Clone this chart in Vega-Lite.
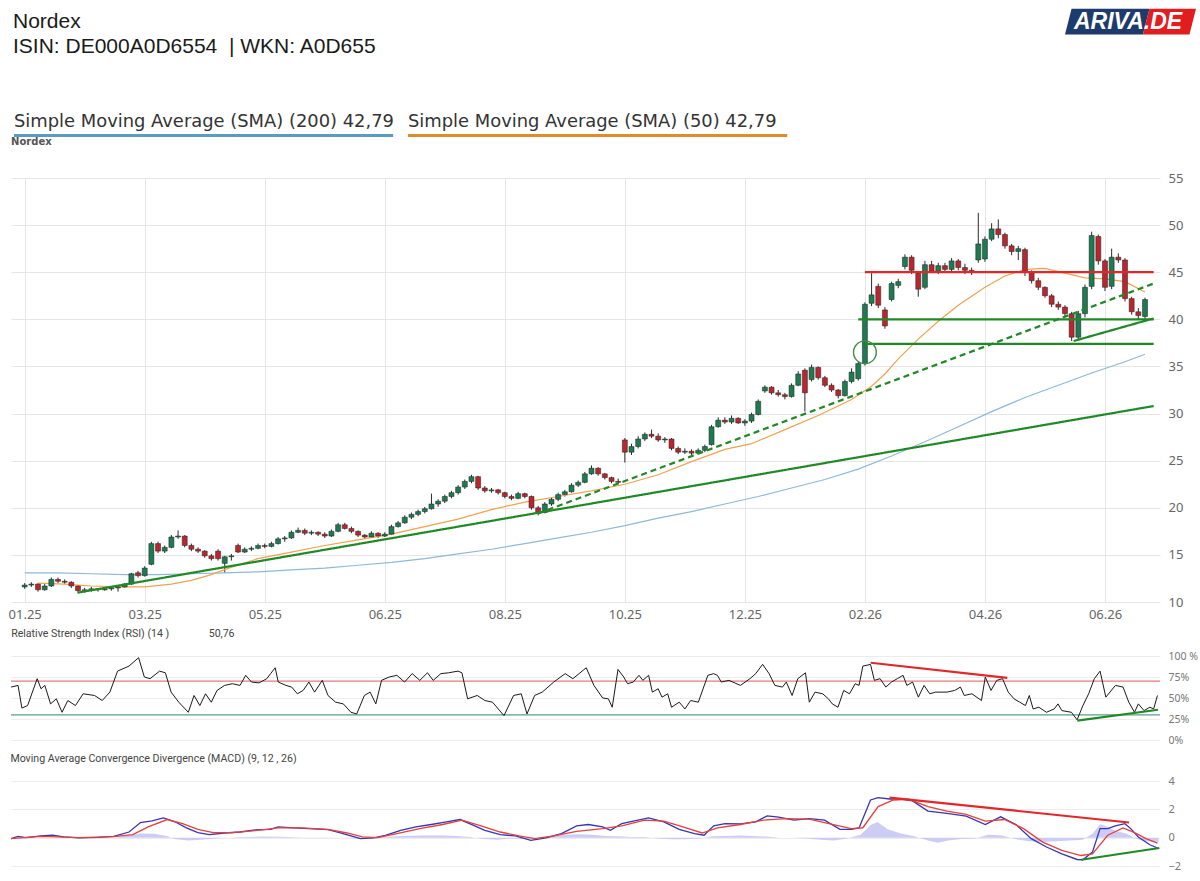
{
  "$schema": "https://vega.github.io/schema/vega-lite/v6.json",
  "background": "white",
  "padding": {"left": 8, "top": 8, "right": 5, "bottom": 4},
  "spacing": 0,
  "config": {
    "view": {"stroke": null},
    "font": "Noto Sans",
    "axis": {"domain": false, "ticks": false, "labelFont": "Noto Sans", "labelColor": "#666", "gridColor": "#e6e6e6", "labelOverlap": false}
  },
  "datasets": {
    "header": [
      {"line": "name", "col": "c1", "kind": "title", "txt": "Nordex"},
      {"line": "isin", "col": "c1", "kind": "title", "txt": "ISIN: DE000A0D6554\u00a0 | WKN: A0D655"},
      {"line": "legend", "col": "c1", "kind": "SMA 200", "txt": "Simple Moving Average (SMA) (200) 42,79"},
      {"line": "legend", "col": "c2", "kind": "SMA 50", "txt": "Simple Moving Average (SMA) (50) 42,79"}
    ],
    "logo": [
      {"line": "name", "brand": "ARIVA.DE", "part": "ARIVA"},
      {"line": "name", "brand": "ARIVA.DE", "part": ".DE"}
    ],
    "candles": [
      {"k":0,"o":11.6,"h":12.0,"l":11.4,"c":11.8},
      {"k":1,"o":11.8,"h":12.1,"l":11.6,"c":11.9},
      {"k":2,"o":11.9,"h":12.0,"l":11.1,"c":11.3},
      {"k":3,"o":11.3,"h":11.9,"l":11.2,"c":11.7},
      {"k":4,"o":11.7,"h":12.6,"l":11.6,"c":12.4},
      {"k":5,"o":12.4,"h":12.6,"l":12.0,"c":12.2},
      {"k":6,"o":12.2,"h":12.4,"l":11.9,"c":12.1},
      {"k":7,"o":12.1,"h":12.2,"l":11.5,"c":11.7},
      {"k":8,"o":11.7,"h":11.8,"l":10.9,"c":11.2},
      {"k":9,"o":11.2,"h":11.5,"l":11.0,"c":11.3},
      {"k":10,"o":11.3,"h":11.6,"l":11.1,"c":11.4},
      {"k":11,"o":11.4,"h":11.5,"l":11.1,"c":11.3},
      {"k":12,"o":11.3,"h":11.6,"l":11.2,"c":11.4},
      {"k":13,"o":11.4,"h":11.6,"l":11.2,"c":11.5},
      {"k":14,"o":11.5,"h":11.7,"l":11.1,"c":11.6},
      {"k":15,"o":11.6,"h":12.0,"l":11.5,"c":11.9},
      {"k":16,"o":11.9,"h":13.1,"l":11.8,"c":13.0},
      {"k":17,"o":13.1,"h":13.3,"l":12.6,"c":12.8},
      {"k":18,"o":12.8,"h":13.8,"l":12.7,"c":13.6},
      {"k":19,"o":14.0,"h":16.4,"l":13.9,"c":16.2},
      {"k":20,"o":16.2,"h":16.4,"l":15.2,"c":15.4},
      {"k":21,"o":15.4,"h":16.0,"l":15.2,"c":15.8},
      {"k":22,"o":15.8,"h":17.1,"l":15.7,"c":16.9},
      {"k":23,"o":16.9,"h":17.6,"l":16.7,"c":17.0},
      {"k":24,"o":17.0,"h":17.1,"l":15.8,"c":16.0},
      {"k":25,"o":16.0,"h":16.2,"l":15.4,"c":15.6},
      {"k":26,"o":15.6,"h":15.8,"l":15.2,"c":15.4},
      {"k":27,"o":15.4,"h":15.5,"l":14.7,"c":14.9},
      {"k":28,"o":14.9,"h":15.1,"l":14.4,"c":14.6},
      {"k":29,"o":15.4,"h":15.6,"l":14.4,"c":14.6},
      {"k":30,"o":14.1,"h":14.9,"l":13.1,"c":14.8},
      {"k":31,"o":14.8,"h":15.1,"l":14.4,"c":14.9},
      {"k":32,"o":16.0,"h":16.2,"l":15.2,"c":15.3},
      {"k":33,"o":15.3,"h":15.8,"l":15.2,"c":15.6},
      {"k":34,"o":15.6,"h":15.9,"l":15.4,"c":15.7},
      {"k":35,"o":15.7,"h":16.2,"l":15.6,"c":16.0},
      {"k":36,"o":16.0,"h":16.2,"l":15.7,"c":15.9},
      {"k":37,"o":15.9,"h":16.4,"l":15.8,"c":16.2},
      {"k":38,"o":16.2,"h":16.9,"l":16.1,"c":16.7},
      {"k":39,"o":16.7,"h":17.0,"l":16.4,"c":16.8},
      {"k":40,"o":16.8,"h":17.6,"l":16.7,"c":17.4},
      {"k":41,"o":17.4,"h":17.9,"l":17.3,"c":17.6},
      {"k":42,"o":17.6,"h":17.8,"l":17.1,"c":17.3},
      {"k":43,"o":17.3,"h":17.6,"l":17.1,"c":17.4},
      {"k":44,"o":17.4,"h":17.5,"l":17.0,"c":17.2},
      {"k":45,"o":17.2,"h":17.4,"l":16.8,"c":17.0},
      {"k":46,"o":17.0,"h":17.7,"l":16.9,"c":17.5},
      {"k":47,"o":17.5,"h":18.4,"l":17.4,"c":18.2},
      {"k":48,"o":18.2,"h":18.4,"l":17.7,"c":17.8},
      {"k":49,"o":17.8,"h":18.0,"l":17.3,"c":17.5},
      {"k":50,"o":17.5,"h":17.6,"l":16.9,"c":17.1},
      {"k":51,"o":17.1,"h":17.2,"l":16.7,"c":16.9},
      {"k":52,"o":16.9,"h":17.5,"l":16.8,"c":17.3},
      {"k":53,"o":17.3,"h":17.4,"l":16.8,"c":17.0},
      {"k":54,"o":17.0,"h":17.4,"l":16.9,"c":17.2},
      {"k":55,"o":17.2,"h":18.2,"l":17.1,"c":18.0},
      {"k":56,"o":18.0,"h":18.6,"l":17.9,"c":18.4},
      {"k":57,"o":18.4,"h":19.2,"l":18.3,"c":19.0},
      {"k":58,"o":19.0,"h":19.5,"l":18.8,"c":19.3},
      {"k":59,"o":19.3,"h":19.8,"l":19.1,"c":19.6},
      {"k":60,"o":19.6,"h":20.1,"l":19.4,"c":19.9},
      {"k":61,"o":19.9,"h":21.5,"l":19.8,"c":20.4},
      {"k":62,"o":20.4,"h":20.9,"l":20.1,"c":20.7},
      {"k":63,"o":20.7,"h":21.4,"l":20.5,"c":21.2},
      {"k":64,"o":21.2,"h":21.8,"l":21.0,"c":21.6},
      {"k":65,"o":21.6,"h":22.4,"l":21.4,"c":22.2},
      {"k":66,"o":22.2,"h":23.0,"l":22.0,"c":22.8},
      {"k":67,"o":22.8,"h":23.5,"l":22.6,"c":23.3},
      {"k":68,"o":23.3,"h":23.4,"l":21.9,"c":22.1},
      {"k":69,"o":22.1,"h":22.3,"l":21.6,"c":21.8},
      {"k":70,"o":21.8,"h":22.1,"l":21.6,"c":21.9},
      {"k":71,"o":21.9,"h":22.0,"l":21.4,"c":21.6},
      {"k":72,"o":21.6,"h":21.7,"l":21.0,"c":21.2},
      {"k":73,"o":21.2,"h":21.4,"l":20.8,"c":21.0},
      {"k":74,"o":21.0,"h":21.7,"l":20.9,"c":21.5},
      {"k":75,"o":21.5,"h":21.6,"l":21.0,"c":21.2},
      {"k":76,"o":21.2,"h":21.3,"l":19.8,"c":20.0},
      {"k":77,"o":20.0,"h":20.2,"l":19.2,"c":19.5},
      {"k":78,"o":19.5,"h":20.6,"l":19.4,"c":20.4},
      {"k":79,"o":20.4,"h":21.1,"l":20.2,"c":20.9},
      {"k":80,"o":20.9,"h":21.6,"l":20.7,"c":21.4},
      {"k":81,"o":21.4,"h":21.9,"l":21.2,"c":21.7},
      {"k":82,"o":21.7,"h":22.6,"l":21.6,"c":22.4},
      {"k":83,"o":22.4,"h":22.9,"l":22.2,"c":22.7},
      {"k":84,"o":22.7,"h":23.8,"l":22.6,"c":23.6},
      {"k":85,"o":23.6,"h":24.5,"l":23.5,"c":24.2},
      {"k":86,"o":24.2,"h":24.3,"l":23.4,"c":23.6},
      {"k":87,"o":23.6,"h":23.7,"l":23.0,"c":23.2},
      {"k":88,"o":23.2,"h":23.3,"l":22.6,"c":22.8},
      {"k":89,"o":22.8,"h":23.1,"l":22.5,"c":22.7},
      {"k":90,"o":27.2,"h":27.4,"l":24.8,"c":25.9},
      {"k":91,"o":25.9,"h":26.8,"l":25.6,"c":26.5},
      {"k":92,"o":26.5,"h":27.6,"l":26.3,"c":27.3},
      {"k":93,"o":27.3,"h":28.0,"l":27.1,"c":27.8},
      {"k":94,"o":27.8,"h":28.3,"l":27.4,"c":27.6},
      {"k":95,"o":27.6,"h":27.9,"l":27.0,"c":27.2},
      {"k":96,"o":27.2,"h":27.5,"l":26.9,"c":27.3},
      {"k":97,"o":27.3,"h":27.4,"l":26.1,"c":26.3},
      {"k":98,"o":26.3,"h":26.5,"l":25.7,"c":25.9},
      {"k":99,"o":25.9,"h":26.3,"l":25.7,"c":26.0},
      {"k":100,"o":26.0,"h":26.2,"l":25.6,"c":25.8},
      {"k":101,"o":25.8,"h":26.3,"l":25.7,"c":26.1},
      {"k":102,"o":26.1,"h":26.7,"l":25.9,"c":26.5},
      {"k":103,"o":26.7,"h":28.8,"l":26.6,"c":28.6},
      {"k":104,"o":28.6,"h":29.6,"l":28.5,"c":29.3},
      {"k":105,"o":29.3,"h":29.6,"l":28.9,"c":29.1},
      {"k":106,"o":29.1,"h":29.8,"l":28.9,"c":29.5},
      {"k":107,"o":29.5,"h":29.6,"l":28.9,"c":29.0},
      {"k":108,"o":29.0,"h":29.4,"l":28.7,"c":29.2},
      {"k":109,"o":29.2,"h":30.1,"l":29.0,"c":29.9},
      {"k":110,"o":29.9,"h":31.5,"l":29.8,"c":31.3},
      {"k":111,"o":32.4,"h":33.0,"l":32.2,"c":32.8},
      {"k":112,"o":32.8,"h":32.9,"l":32.0,"c":32.2},
      {"k":113,"o":32.2,"h":32.5,"l":31.8,"c":32.0},
      {"k":114,"o":32.0,"h":32.2,"l":31.5,"c":31.8},
      {"k":115,"o":31.8,"h":33.2,"l":31.7,"c":33.0},
      {"k":116,"o":33.0,"h":34.5,"l":32.9,"c":34.2},
      {"k":117,"o":34.6,"h":34.8,"l":30.2,"c":32.2},
      {"k":118,"o":33.6,"h":35.2,"l":33.4,"c":34.9},
      {"k":119,"o":34.9,"h":35.0,"l":33.6,"c":33.8},
      {"k":120,"o":33.8,"h":34.0,"l":32.8,"c":33.0},
      {"k":121,"o":33.0,"h":33.2,"l":32.3,"c":32.5},
      {"k":122,"o":32.5,"h":32.6,"l":31.6,"c":31.9},
      {"k":123,"o":31.9,"h":33.6,"l":31.8,"c":33.4},
      {"k":124,"o":33.4,"h":34.8,"l":33.2,"c":34.4},
      {"k":125,"o":33.7,"h":35.5,"l":33.5,"c":35.3},
      {"k":126,"o":35.3,"h":41.8,"l":35.1,"c":41.6},
      {"k":127,"o":41.7,"h":44.9,"l":41.4,"c":42.6},
      {"k":128,"o":43.5,"h":43.8,"l":41.2,"c":41.5},
      {"k":129,"o":41.0,"h":41.3,"l":39.0,"c":39.3},
      {"k":130,"o":42.1,"h":44.0,"l":41.9,"c":43.8},
      {"k":131,"o":43.6,"h":44.3,"l":43.3,"c":44.0},
      {"k":132,"o":45.6,"h":46.9,"l":45.3,"c":46.6},
      {"k":133,"o":46.6,"h":46.8,"l":44.8,"c":45.2},
      {"k":134,"o":44.9,"h":45.1,"l":42.4,"c":43.2},
      {"k":135,"o":43.4,"h":46.2,"l":43.2,"c":45.8},
      {"k":136,"o":45.8,"h":46.2,"l":44.9,"c":45.1},
      {"k":137,"o":45.1,"h":46.0,"l":44.8,"c":45.7},
      {"k":138,"o":45.7,"h":46.0,"l":45.0,"c":45.3},
      {"k":139,"o":45.3,"h":46.5,"l":45.1,"c":46.2},
      {"k":140,"o":46.2,"h":46.4,"l":45.2,"c":45.5},
      {"k":141,"o":45.5,"h":45.9,"l":44.8,"c":45.2},
      {"k":142,"o":45.2,"h":45.5,"l":44.7,"c":45.0},
      {"k":143,"o":46.3,"h":51.3,"l":46.0,"c":48.0},
      {"k":144,"o":46.4,"h":48.8,"l":46.1,"c":48.5},
      {"k":145,"o":48.5,"h":50.2,"l":48.3,"c":49.6},
      {"k":146,"o":49.6,"h":50.6,"l":48.6,"c":49.0},
      {"k":147,"o":49.0,"h":49.2,"l":47.5,"c":47.8},
      {"k":148,"o":47.8,"h":48.0,"l":46.8,"c":47.2},
      {"k":149,"o":47.2,"h":47.8,"l":46.3,"c":47.5},
      {"k":150,"o":47.4,"h":47.6,"l":44.6,"c":45.0},
      {"k":151,"o":45.0,"h":45.2,"l":43.8,"c":44.1},
      {"k":152,"o":44.1,"h":44.4,"l":43.1,"c":43.4},
      {"k":153,"o":43.4,"h":43.5,"l":42.3,"c":42.5},
      {"k":154,"o":42.5,"h":42.7,"l":41.3,"c":41.6},
      {"k":155,"o":41.6,"h":41.9,"l":41.0,"c":41.3},
      {"k":156,"o":41.3,"h":41.5,"l":40.3,"c":40.6},
      {"k":157,"o":40.6,"h":40.8,"l":37.7,"c":38.1},
      {"k":158,"o":38.1,"h":40.9,"l":37.9,"c":40.6},
      {"k":159,"o":40.6,"h":43.7,"l":40.2,"c":43.4},
      {"k":160,"o":43.5,"h":49.3,"l":43.2,"c":48.9},
      {"k":161,"o":48.8,"h":49.0,"l":45.8,"c":46.2},
      {"k":162,"o":46.2,"h":46.4,"l":43.0,"c":43.4},
      {"k":163,"o":43.5,"h":47.5,"l":43.2,"c":46.6},
      {"k":164,"o":46.6,"h":47.0,"l":46.0,"c":46.3},
      {"k":165,"o":46.3,"h":46.5,"l":41.9,"c":42.2},
      {"k":166,"o":42.2,"h":42.4,"l":40.5,"c":40.8},
      {"k":167,"o":40.8,"h":41.2,"l":40.0,"c":40.4},
      {"k":168,"o":40.3,"h":42.3,"l":39.9,"c":42.1}
    ],
    "sma": [
      {"k":0,"s":"SMA 200","v":13.1},{"k":5,"s":"SMA 200","v":13.1},{"k":10,"s":"SMA 200","v":13.0},
      {"k":15,"s":"SMA 200","v":12.9},{"k":20,"s":"SMA 200","v":12.9},{"k":25,"s":"SMA 200","v":13.0},
      {"k":30,"s":"SMA 200","v":13.1},{"k":35,"s":"SMA 200","v":13.2},{"k":40,"s":"SMA 200","v":13.4},
      {"k":45,"s":"SMA 200","v":13.6},{"k":50,"s":"SMA 200","v":13.9},{"k":55,"s":"SMA 200","v":14.2},
      {"k":60,"s":"SMA 200","v":14.6},{"k":65,"s":"SMA 200","v":15.1},{"k":70,"s":"SMA 200","v":15.6},
      {"k":75,"s":"SMA 200","v":16.2},{"k":80,"s":"SMA 200","v":16.8},{"k":85,"s":"SMA 200","v":17.4},
      {"k":90,"s":"SMA 200","v":18.1},{"k":95,"s":"SMA 200","v":18.9},{"k":100,"s":"SMA 200","v":19.6},
      {"k":105,"s":"SMA 200","v":20.4},{"k":110,"s":"SMA 200","v":21.2},{"k":115,"s":"SMA 200","v":22.1},
      {"k":120,"s":"SMA 200","v":23.0},{"k":125,"s":"SMA 200","v":24.1},{"k":130,"s":"SMA 200","v":25.5},
      {"k":135,"s":"SMA 200","v":27.0},{"k":140,"s":"SMA 200","v":28.6},{"k":145,"s":"SMA 200","v":30.2},
      {"k":150,"s":"SMA 200","v":31.7},{"k":155,"s":"SMA 200","v":33.0},{"k":160,"s":"SMA 200","v":34.3},
      {"k":165,"s":"SMA 200","v":35.5},{"k":168,"s":"SMA 200","v":36.3},
      {"k":2,"s":"SMA 50","v":12.0},{"k":6,"s":"SMA 50","v":11.9},{"k":10,"s":"SMA 50","v":11.7},
      {"k":14,"s":"SMA 50","v":11.6},{"k":18,"s":"SMA 50","v":11.6},{"k":22,"s":"SMA 50","v":11.9},
      {"k":25,"s":"SMA 50","v":12.3},{"k":28,"s":"SMA 50","v":12.9},{"k":31,"s":"SMA 50","v":13.7},
      {"k":35,"s":"SMA 50","v":14.6},{"k":40,"s":"SMA 50","v":15.3},{"k":45,"s":"SMA 50","v":16.0},
      {"k":50,"s":"SMA 50","v":16.6},{"k":55,"s":"SMA 50","v":17.2},{"k":60,"s":"SMA 50","v":18.0},
      {"k":65,"s":"SMA 50","v":18.8},{"k":70,"s":"SMA 50","v":19.8},{"k":75,"s":"SMA 50","v":20.6},
      {"k":80,"s":"SMA 50","v":21.2},{"k":85,"s":"SMA 50","v":21.8},{"k":90,"s":"SMA 50","v":22.5},
      {"k":95,"s":"SMA 50","v":23.5},{"k":100,"s":"SMA 50","v":24.9},{"k":105,"s":"SMA 50","v":26.2},
      {"k":109,"s":"SMA 50","v":26.8},{"k":114,"s":"SMA 50","v":28.3},{"k":119,"s":"SMA 50","v":29.8},
      {"k":124,"s":"SMA 50","v":31.5},{"k":127,"s":"SMA 50","v":32.9},{"k":129,"s":"SMA 50","v":34.2},
      {"k":131,"s":"SMA 50","v":35.8},{"k":134,"s":"SMA 50","v":37.9},{"k":137,"s":"SMA 50","v":39.8},
      {"k":140,"s":"SMA 50","v":41.5},{"k":144,"s":"SMA 50","v":43.4},{"k":147,"s":"SMA 50","v":44.6},
      {"k":150,"s":"SMA 50","v":45.3},{"k":153,"s":"SMA 50","v":45.4},{"k":156,"s":"SMA 50","v":44.9},
      {"k":159,"s":"SMA 50","v":44.4},{"k":162,"s":"SMA 50","v":44.3},{"k":165,"s":"SMA 50","v":44.0},
      {"k":168,"s":"SMA 50","v":42.9}
    ],
    "trend": [
      {"kind": "long support", "k": 8, "p": 11.0, "k2": 169.3, "p2": 30.8},
      {"kind": "trend channel", "k": 77, "p": 19.4, "k2": 169.3, "p2": 43.8},
      {"kind": "resistance", "k": 126, "p": 45.0, "k2": 169.3, "p2": 45.0},
      {"kind": "support", "k": 125, "p": 40.0, "k2": 169.3, "p2": 40.0},
      {"kind": "support", "k": 126, "p": 37.4, "k2": 169.3, "p2": 37.4},
      {"kind": "support", "k": 157.3, "p": 37.7, "k2": 169.3, "p2": 40.1}
    ],
    "gap": [{"k": 126, "p": 36.5}],
    "rsi": [
      {"k":-1.28,"v":63},{"k":-0.25,"v":65},{"k":0.32,"v":38},{"k":1.17,"v":41},{"k":2.59,"v":73},
      {"k":3.16,"v":61},{"k":3.73,"v":65},{"k":4.58,"v":43},{"k":5.44,"v":49},{"k":6.29,"v":33},
      {"k":7.14,"v":47},{"k":8.28,"v":41},{"k":9.42,"v":55},{"k":11.12,"v":53},{"k":12.26,"v":47},
      {"k":13.4,"v":57},{"k":14.54,"v":82},{"k":16.24,"v":88},{"k":17.67,"v":98},{"k":18.52,"v":75},
      {"k":19.37,"v":73},{"k":20.79,"v":82},{"k":21.65,"v":80},{"k":22.5,"v":57},{"k":23.64,"v":45},
      {"k":25.06,"v":33},{"k":25.91,"v":53},{"k":26.77,"v":41},{"k":27.62,"v":55},{"k":28.47,"v":45},
      {"k":29.33,"v":59},{"k":30.46,"v":65},{"k":31.6,"v":67},{"k":32.74,"v":65},{"k":33.59,"v":77},
      {"k":34.45,"v":69},{"k":35.58,"v":68},{"k":36.72,"v":73},{"k":37.29,"v":79},{"k":37.97,"v":86},
      {"k":38.43,"v":69},{"k":39.56,"v":65},{"k":40.42,"v":63},{"k":41.27,"v":55},{"k":42.12,"v":59},
      {"k":42.98,"v":69},{"k":43.83,"v":57},{"k":44.97,"v":71},{"k":45.82,"v":53},{"k":46.96,"v":45},
      {"k":48.1,"v":43},{"k":49.23,"v":33},{"k":50.09,"v":31},{"k":51.23,"v":53},{"k":52.08,"v":57},
      {"k":52.93,"v":43},{"k":53.78,"v":71},{"k":54.92,"v":75},{"k":56.06,"v":77},{"k":57.2,"v":69},
      {"k":58.34,"v":79},{"k":59.47,"v":71},{"k":60.61,"v":80},{"k":61.46,"v":71},{"k":62.6,"v":79},
      {"k":63.74,"v":80},{"k":65.16,"v":82},{"k":65.73,"v":80},{"k":66.58,"v":49},{"k":68.0,"v":53},
      {"k":69.14,"v":47},{"k":70.28,"v":45},{"k":71.98,"v":29},{"k":73.41,"v":53},{"k":74.55,"v":55},
      {"k":75.4,"v":31},{"k":76.54,"v":53},{"k":77.67,"v":57},{"k":79.38,"v":69},{"k":81.08,"v":79},
      {"k":82.22,"v":73},{"k":84.21,"v":86},{"k":85.35,"v":65},{"k":86.65,"v":50},{"k":87.5,"v":49},
      {"k":88.07,"v":39},{"k":88.93,"v":84},{"k":89.78,"v":75},{"k":90.35,"v":67},{"k":91.2,"v":69},
      {"k":92.05,"v":77},{"k":92.62,"v":71},{"k":93.48,"v":77},{"k":94.04,"v":57},{"k":94.9,"v":61},
      {"k":95.47,"v":51},{"k":96.32,"v":55},{"k":96.89,"v":39},{"k":98.03,"v":45},{"k":98.88,"v":37},
      {"k":99.73,"v":47},{"k":100.87,"v":45},{"k":102.29,"v":77},{"k":103.15,"v":79},{"k":103.71,"v":77},
      {"k":104.28,"v":69},{"k":105.42,"v":71},{"k":107.13,"v":65},{"k":108.55,"v":73},{"k":109.4,"v":79},
      {"k":110.43,"v":90},{"k":111.39,"v":79},{"k":112.25,"v":65},{"k":113.38,"v":63},{"k":113.95,"v":69},
      {"k":114.81,"v":53},{"k":115.66,"v":73},{"k":116.8,"v":80},{"k":117.37,"v":45},{"k":118.22,"v":57},
      {"k":119.36,"v":55},{"k":120.21,"v":49},{"k":120.78,"v":43},{"k":121.63,"v":39},{"k":122.48,"v":59},
      {"k":123.34,"v":55},{"k":124.19,"v":67},{"k":124.76,"v":65},{"k":125.33,"v":88},{"k":126.47,"v":90},
      {"k":127.04,"v":71},{"k":127.89,"v":73},{"k":128.74,"v":63},{"k":129.59,"v":69},{"k":130.45,"v":73},
      {"k":131.3,"v":77},{"k":131.87,"v":65},{"k":132.72,"v":69},{"k":133.58,"v":51},{"k":134.43,"v":65},
      {"k":135.28,"v":55},{"k":136.14,"v":57},{"k":137.84,"v":57},{"k":138.98,"v":59},{"k":139.83,"v":63},
      {"k":140.4,"v":53},{"k":141.54,"v":55},{"k":142.96,"v":47},{"k":143.53,"v":75},{"k":144.38,"v":59},
      {"k":145.24,"v":71},{"k":146.09,"v":73},{"k":146.94,"v":57},{"k":147.8,"v":49},{"k":148.65,"v":45},
      {"k":149.5,"v":41},{"k":150.07,"v":53},{"k":150.64,"v":37},{"k":151.49,"v":39},{"k":152.63,"v":33},
      {"k":153.77,"v":37},{"k":154.34,"v":43},{"k":154.91,"v":35},{"k":156.33,"v":33},{"k":157.18,"v":24},
      {"k":158.04,"v":41},{"k":158.89,"v":55},{"k":159.74,"v":73},{"k":160.59,"v":82},{"k":161.45,"v":51},
      {"k":162.87,"v":65},{"k":164.01,"v":63},{"k":164.86,"v":45},{"k":165.71,"v":33},{"k":166.28,"v":43},
      {"k":167.13,"v":35},{"k":167.99,"v":39},{"k":168.56,"v":37},{"k":169.12,"v":53}
    ],
    "rsiLevels": [
      {"kind": "overbought", "v": 70},
      {"kind": "oversold", "v": 30}
    ],
    "rsiTrend": [
      {"kind": "bearish divergence", "k": 126.5, "v": 92, "k2": 146.8, "v2": 74},
      {"kind": "bullish divergence", "k": 157.2, "v": 23, "k2": 169.2, "v2": 36}
    ],
    "macd": [
      {"k":-1.3,"s":"MACD","v":-0.07},{"k":-0.25,"s":"MACD","v":0.09},{"k":0.89,"s":"MACD","v":0.0},
      {"k":3.16,"s":"MACD","v":0.12},{"k":4.87,"s":"MACD","v":0.17},{"k":6.57,"s":"MACD","v":0.05},
      {"k":8.85,"s":"MACD","v":-0.02},{"k":11.69,"s":"MACD","v":0.02},{"k":13.97,"s":"MACD","v":0.09},
      {"k":16.24,"s":"MACD","v":0.4},{"k":17.95,"s":"MACD","v":1.07},{"k":19.66,"s":"MACD","v":1.19},
      {"k":21.36,"s":"MACD","v":1.4},{"k":23.07,"s":"MACD","v":1.12},{"k":24.78,"s":"MACD","v":0.69},
      {"k":26.48,"s":"MACD","v":0.36},{"k":28.19,"s":"MACD","v":0.21},{"k":30.46,"s":"MACD","v":0.33},
      {"k":32.74,"s":"MACD","v":0.4},{"k":35.01,"s":"MACD","v":0.55},{"k":37.29,"s":"MACD","v":0.59},
      {"k":38.43,"s":"MACD","v":0.76},{"k":40.7,"s":"MACD","v":0.69},{"k":42.98,"s":"MACD","v":0.64},
      {"k":45.82,"s":"MACD","v":0.57},{"k":47.53,"s":"MACD","v":0.36},{"k":49.23,"s":"MACD","v":0.12},
      {"k":50.65,"s":"MACD","v":-0.07},{"k":52.65,"s":"MACD","v":-0.02},{"k":54.35,"s":"MACD","v":0.17},
      {"k":56.63,"s":"MACD","v":0.52},{"k":58.9,"s":"MACD","v":0.76},{"k":61.18,"s":"MACD","v":0.93},
      {"k":63.45,"s":"MACD","v":1.12},{"k":65.45,"s":"MACD","v":1.28},{"k":66.87,"s":"MACD","v":0.99},
      {"k":69.14,"s":"MACD","v":0.52},{"k":71.42,"s":"MACD","v":0.21},{"k":73.69,"s":"MACD","v":0.12},
      {"k":75.97,"s":"MACD","v":-0.19},{"k":78.24,"s":"MACD","v":-0.02},{"k":80.52,"s":"MACD","v":0.28},
      {"k":82.79,"s":"MACD","v":0.83},{"k":84.5,"s":"MACD","v":0.93},{"k":86.66,"s":"MACD","v":0.76},
      {"k":87.79,"s":"MACD","v":0.52},{"k":89.49,"s":"MACD","v":0.99},{"k":91.2,"s":"MACD","v":1.17},
      {"k":93.48,"s":"MACD","v":1.4},{"k":95.75,"s":"MACD","v":1.12},{"k":98.03,"s":"MACD","v":0.59},
      {"k":100.3,"s":"MACD","v":0.28},{"k":101.72,"s":"MACD","v":0.17},{"k":103.15,"s":"MACD","v":0.83},
      {"k":104.85,"s":"MACD","v":0.99},{"k":107.13,"s":"MACD","v":0.97},{"k":109.4,"s":"MACD","v":1.12},
      {"k":111.11,"s":"MACD","v":1.54},{"k":112.81,"s":"MACD","v":1.45},{"k":115.09,"s":"MACD","v":1.24},
      {"k":117.37,"s":"MACD","v":1.35},{"k":119.64,"s":"MACD","v":1.24},{"k":121.92,"s":"MACD","v":0.59},
      {"k":123.62,"s":"MACD","v":0.59},{"k":124.76,"s":"MACD","v":0.69},{"k":126.47,"s":"MACD","v":2.66},
      {"k":127.6,"s":"MACD","v":2.83},{"k":129.31,"s":"MACD","v":2.73},{"k":131.02,"s":"MACD","v":2.73},
      {"k":132.72,"s":"MACD","v":2.59},{"k":135.0,"s":"MACD","v":1.88},{"k":137.84,"s":"MACD","v":1.71},
      {"k":140.69,"s":"MACD","v":1.52},{"k":143.53,"s":"MACD","v":0.93},{"k":145.81,"s":"MACD","v":1.47},
      {"k":148.08,"s":"MACD","v":0.93},{"k":150.36,"s":"MACD","v":-0.07},{"k":152.63,"s":"MACD","v":-0.66},
      {"k":154.91,"s":"MACD","v":-1.14},{"k":157.18,"s":"MACD","v":-1.54},{"k":158.04,"s":"MACD","v":-1.56},
      {"k":159.46,"s":"MACD","v":-1.02},{"k":160.59,"s":"MACD","v":0.64},{"k":161.73,"s":"MACD","v":0.64},
      {"k":162.87,"s":"MACD","v":0.83},{"k":164.29,"s":"MACD","v":0.99},{"k":165.14,"s":"MACD","v":0.64},
      {"k":166.28,"s":"MACD","v":0.05},{"k":167.99,"s":"MACD","v":-0.5},{"k":169.12,"s":"MACD","v":-0.73},
      {"k":-1.3,"s":"Signal","v":-0.07},{"k":3.16,"s":"Signal","v":0.09},{"k":8.85,"s":"Signal","v":0.0},
      {"k":13.97,"s":"Signal","v":0.07},{"k":16.81,"s":"Signal","v":0.21},{"k":19.09,"s":"Signal","v":0.76},
      {"k":21.93,"s":"Signal","v":1.28},{"k":24.21,"s":"Signal","v":0.99},{"k":26.48,"s":"Signal","v":0.59},
      {"k":28.76,"s":"Signal","v":0.36},{"k":31.6,"s":"Signal","v":0.36},{"k":35.01,"s":"Signal","v":0.5},
      {"k":38.43,"s":"Signal","v":0.69},{"k":41.84,"s":"Signal","v":0.69},{"k":45.82,"s":"Signal","v":0.59},
      {"k":48.66,"s":"Signal","v":0.33},{"k":50.94,"s":"Signal","v":0.05},{"k":53.21,"s":"Signal","v":0.0},
      {"k":56.06,"s":"Signal","v":0.28},{"k":59.47,"s":"Signal","v":0.64},{"k":62.88,"s":"Signal","v":0.93},
      {"k":65.73,"s":"Signal","v":1.24},{"k":68.57,"s":"Signal","v":0.83},{"k":71.42,"s":"Signal","v":0.4},
      {"k":74.26,"s":"Signal","v":0.12},{"k":76.54,"s":"Signal","v":-0.07},{"k":79.38,"s":"Signal","v":0.12},
      {"k":82.79,"s":"Signal","v":0.45},{"k":86.66,"s":"Signal","v":0.64},{"k":89.49,"s":"Signal","v":0.83},
      {"k":92.91,"s":"Signal","v":1.24},{"k":95.75,"s":"Signal","v":1.17},{"k":98.59,"s":"Signal","v":0.76},
      {"k":101.44,"s":"Signal","v":0.33},{"k":103.71,"s":"Signal","v":0.69},{"k":107.13,"s":"Signal","v":0.93},
      {"k":110.54,"s":"Signal","v":1.24},{"k":113.95,"s":"Signal","v":1.35},{"k":117.37,"s":"Signal","v":1.31},
      {"k":120.78,"s":"Signal","v":0.93},{"k":123.62,"s":"Signal","v":0.64},{"k":125.33,"s":"Signal","v":0.7},
      {"k":127.6,"s":"Signal","v":2.19},{"k":129.88,"s":"Signal","v":2.66},{"k":132.15,"s":"Signal","v":2.71},
      {"k":135.0,"s":"Signal","v":2.19},{"k":137.84,"s":"Signal","v":1.88},{"k":140.69,"s":"Signal","v":1.64},
      {"k":143.53,"s":"Signal","v":1.17},{"k":146.38,"s":"Signal","v":1.28},{"k":149.22,"s":"Signal","v":0.64},
      {"k":152.06,"s":"Signal","v":-0.31},{"k":154.91,"s":"Signal","v":-0.9},{"k":157.75,"s":"Signal","v":-1.26},
      {"k":159.46,"s":"Signal","v":-1.14},{"k":161.73,"s":"Signal","v":0.17},{"k":164.01,"s":"Signal","v":0.69},
      {"k":165.71,"s":"Signal","v":0.36},{"k":167.42,"s":"Signal","v":-0.07},{"k":169.12,"s":"Signal","v":-0.38}
    ],
    "hist": [
      {"k":-1.3,"v":0},{"k":14,"v":0},{"k":16,"v":0.15},{"k":18,"v":0.3},{"k":20,"v":0.28},{"k":22,"v":0.1},
      {"k":23,"v":-0.1},{"k":25,"v":-0.2},{"k":27,"v":-0.15},{"k":29,"v":-0.05},{"k":31,"v":0},{"k":33,"v":0.05},
      {"k":36,"v":0.08},{"k":39,"v":0.06},{"k":42,"v":0.02},{"k":45,"v":0.02},{"k":48,"v":0},{"k":50,"v":-0.05},
      {"k":52,"v":-0.05},{"k":54,"v":0.05},{"k":57,"v":0.12},{"k":60,"v":0.15},{"k":63,"v":0.16},{"k":65,"v":0.12},
      {"k":67,"v":0.05},{"k":69,"v":-0.1},{"k":71,"v":-0.15},{"k":73,"v":-0.05},{"k":75,"v":-0.1},{"k":77,"v":0},
      {"k":79,"v":0.1},{"k":81,"v":0.2},{"k":83,"v":0.25},{"k":85,"v":0.2},{"k":87,"v":0.12},{"k":89,"v":0.1},
      {"k":91,"v":0.05},{"k":93,"v":0.05},{"k":95,"v":-0.05},{"k":97,"v":-0.12},{"k":99,"v":-0.12},{"k":101,"v":-0.05},
      {"k":103,"v":0.1},{"k":105,"v":0.12},{"k":107,"v":0.15},{"k":109,"v":0.12},{"k":111,"v":0.08},{"k":113,"v":0},
      {"k":115,"v":0},{"k":117,"v":-0.05},{"k":119,"v":-0.15},{"k":121,"v":-0.2},{"k":123,"v":-0.05},{"k":125,"v":0.2},
      {"k":126.5,"v":0.9},{"k":127.5,"v":1.1},{"k":129,"v":0.6},{"k":131,"v":0.3},{"k":133,"v":0.1},{"k":135,"v":-0.2},
      {"k":136.5,"v":-0.35},{"k":138,"v":-0.2},{"k":140,"v":-0.1},{"k":142,"v":-0.05},{"k":144,"v":0.2},{"k":146,"v":0.15},
      {"k":148,"v":-0.1},{"k":150,"v":-0.25},{"k":152,"v":-0.3},{"k":154,"v":-0.25},{"k":156,"v":-0.2},{"k":158,"v":-0.15},
      {"k":159.5,"v":0.3},{"k":160.6,"v":0.95},{"k":161.5,"v":0.8},{"k":163,"v":0.45},{"k":164.5,"v":0.3},{"k":166,"v":-0.1},
      {"k":167.5,"v":-0.25},{"k":169.3,"v":-0.3}
    ],
    "macdTrend": [
      {"kind": "bearish divergence", "k": 129.3, "v": 2.83, "k2": 164.9, "v2": 1.07},
      {"kind": "bullish divergence", "k": 157.8, "v": -1.56, "k2": 169.4, "v2": -0.73}
    ]
  },
  "vconcat": [
    {
      "width": 1185,
      "height": 126,
      "layer": [
        {
          "data": {"name": "header"},
          "transform": [{"filter": "datum.kind == 'title'"}],
          "mark": {"type": "text", "align": "left", "baseline": "middle", "font": "Liberation Sans", "fontSize": 21, "color": "#1a1a1a", "dx": 2},
          "encoding": {
            "x": {"field": "col", "type": "nominal", "bandPosition": 0, "scale": {"type": "band", "domain": ["c1", "c2", "c3"], "paddingInner": 0.03, "paddingOuter": 0.0188, "align": 0}, "axis": null},
            "y": {"field": "line", "type": "nominal", "scale": {"type": "point", "domain": ["name", "isin", "gap1", "gap2", "legend"], "padding": 0.5}, "axis": null},
            "text": {"field": "txt"}
          }
        },
        {
          "data": {"name": "header"},
          "transform": [{"filter": "datum.kind != 'title'"}],
          "mark": {"type": "text", "align": "left", "baseline": "middle", "font": "DejaVu Sans", "fontSize": 17.9, "color": "#333", "dx": 3},
          "encoding": {
            "x": {"field": "col", "type": "nominal", "bandPosition": 0, "scale": {"type": "band", "domain": ["c1", "c2", "c3"], "paddingInner": 0.03, "paddingOuter": 0.0188, "align": 0}, "axis": null},
            "y": {"field": "line", "type": "nominal", "axis": null},
            "text": {"field": "txt"}
          }
        },
        {
          "data": {"name": "header"},
          "transform": [{"filter": "datum.kind != 'title'"}],
          "mark": {"type": "rule", "strokeWidth": 3, "yOffset": 13, "xOffset": 3},
          "encoding": {
            "x": {"field": "col", "type": "nominal", "bandPosition": 0, "scale": {"type": "band", "domain": ["c1", "c2", "c3"], "paddingInner": 0.03, "paddingOuter": 0.0188, "align": 0}, "axis": null},
            "x2": {"field": "col", "bandPosition": 1},
            "y": {"field": "line", "type": "nominal", "axis": null},
            "color": {"field": "kind", "type": "nominal", "scale": {"domain": ["SMA 200", "SMA 50"], "range": ["#5b9bc0", "#e08a2c"]}, "legend": null}
          }
        },
        {
          "data": {"name": "logo"},
          "mark": {"type": "point", "filled": true, "opacity": 1, "strokeWidth": 0, "size": 17161, "xOffset": -65.5},
          "encoding": {
            "x": {"field": "brand", "type": "nominal", "bandPosition": 1, "scale": {"type": "band", "paddingInner": 0, "paddingOuter": 0}, "axis": null},
            "y": {"field": "line", "type": "nominal", "axis": null},
            "shape": {"field": "part", "type": "nominal", "scale": {"domain": ["ARIVA", ".DE"], "range": ["M-1,0.198L-0.9,-0.198L0.29,-0.198L0.19,0.198Z", "M0.19,0.198L0.29,-0.198L1,-0.198L0.9,0.198Z"]}, "legend": null},
            "fill": {"field": "part", "type": "nominal", "scale": {"domain": ["ARIVA", ".DE"], "range": ["#1d3b6c", "#e11d1f"]}, "legend": null}
          }
        },
        {
          "data": {"name": "logo"},
          "transform": [{"filter": "datum.part == 'ARIVA'"}],
          "mark": {"type": "text", "align": "center", "baseline": "middle", "font": "Liberation Sans", "fontSize": 23, "fontWeight": "bold", "fontStyle": "italic", "color": "#ffffff", "xOffset": -68},
          "encoding": {
            "x": {"field": "brand", "type": "nominal", "bandPosition": 1, "scale": {"type": "band", "paddingInner": 0, "paddingOuter": 0}, "axis": null},
            "y": {"field": "line", "type": "nominal", "axis": null},
            "text": {"field": "brand"}
          }
        }
      ],
      "resolve": {"scale": {"x": "independent", "color": "independent", "fill": "independent"}}
    },
    {
      "width": 1149,
      "height": 424,
      "title": {"text": "Nordex", "anchor": "start", "font": "DejaVu Sans", "fontSize": 10, "fontWeight": "bold", "color": "#555", "offset": 25, "dx": 3},
      "encoding": {
        "x": {
          "field": "k", "type": "quantitative",
          "scale": {"domain": [-1.3, 169.5], "nice": false, "zero": false},
          "axis": {
            "orient": "bottom", "title": null, "grid": true, "gridColor": "#e6e6e6",
            "values": [0, 18, 36, 54, 72, 90, 108, 126, 144, 162],
            "labelExpr": "['01.25','03.25','05.25','06.25','08.25','10.25','12.25','02.26','04.26','06.26'][round(datum.value / 18)]",
            "labelFontSize": 13, "labelColor": "#666", "labelPadding": 6, "labelFlush": false, "tickSize": 0
          }
        }
      },
      "layer": [
        {
          "data": {"name": "candles"},
          "mark": {"type": "rule", "color": "#2b2b2b", "strokeWidth": 1},
          "encoding": {
            "y": {"field": "l", "type": "quantitative", "title": null, "scale": {"domain": [10, 55], "nice": false, "zero": false},
              "axis": {"orient": "right", "title": null, "grid": true, "gridColor": "#e6e6e6", "values": [10, 15, 20, 25, 30, 35, 40, 45, 50, 55], "labelFontSize": 13, "labelColor": "#666", "labelPadding": 8, "tickSize": 0}},
            "y2": {"field": "h"}
          }
        },
        {
          "data": {"name": "sma"},
          "mark": {"type": "line", "strokeWidth": 1.2, "clip": true},
          "encoding": {
            "y": {"field": "v", "type": "quantitative", "title": null},
            "color": {"field": "s", "type": "nominal", "scale": {"domain": ["SMA 200", "SMA 50"], "range": ["#8fb9d6", "#f0a24e"]}, "legend": null}
          }
        },
        {
          "data": {"name": "candles"},
          "mark": {"type": "bar", "width": 5, "stroke": "#1e1e1e", "strokeWidth": 0.5},
          "encoding": {
            "y": {"field": "o", "type": "quantitative", "title": null},
            "y2": {"field": "c"},
            "fill": {"condition": {"test": "datum.c >= datum.o", "value": "#1d7a52"}, "value": "#b8272f"}
          }
        },
        {
          "data": {"name": "trend"},
          "mark": {"type": "rule", "strokeWidth": 2.2, "clip": true},
          "encoding": {
            "y": {"field": "p", "type": "quantitative", "title": null},
            "x2": {"field": "k2"},
            "y2": {"field": "p2"},
            "color": {"field": "kind", "type": "nominal", "scale": {"domain": ["long support", "trend channel", "resistance", "support"], "range": ["#1f8a25", "#1f8a25", "#e3262a", "#1f8a25"]}, "legend": null},
            "strokeDash": {"field": "kind", "type": "nominal", "scale": {"domain": ["long support", "trend channel", "resistance", "support"], "range": [[1, 0], [6, 4], [1, 0], [1, 0]]}, "legend": null}
          }
        },
        {
          "data": {"name": "gap"},
          "mark": {"type": "point", "shape": "circle", "filled": false, "size": 520, "stroke": "#3f8f45", "strokeWidth": 1.4, "opacity": 1},
          "encoding": {"y": {"field": "p", "type": "quantitative", "title": null}}
        }
      ],
      "resolve": {"scale": {"color": "independent"}}
    },
    {
      "width": 1149,
      "height": 84,
      "title": {"text": ["", "Relative Strength Index (RSI) (14 )\u00a0\u00a0\u00a0\u00a0\u00a0\u00a0\u00a0\u00a0\u00a0\u00a0\u00a0\u00a0\u00a0\u00a0\u00a050,76"], "lineHeight": 8, "anchor": "start", "font": "Roboto", "fontSize": 10.6, "fontWeight": "normal", "color": "#444", "offset": 11, "dx": 2},
      "encoding": {
        "x": {"field": "k", "type": "quantitative", "scale": {"domain": [-1.3, 169.5], "nice": false, "zero": false}, "axis": null},
        "y": {"field": "v", "type": "quantitative", "title": null, "scale": {"domain": [0, 100], "nice": false},
          "axis": {"orient": "right", "title": null, "grid": true, "gridColor": "#ececec", "values": [0, 25, 50, 75, 100], "labelExpr": "datum.value == 100 ? '100 %' : datum.value + '%'", "labelFontSize": 10.5, "labelColor": "#777", "labelPadding": 8, "tickSize": 0, "labelOverlap": false}}
      },
      "layer": [
        {
          "data": {"name": "rsiLevels"},
          "mark": {"type": "rule", "strokeWidth": 1.2},
          "encoding": {
            "x": null,
            "color": {"field": "kind", "type": "nominal", "scale": {"domain": ["overbought", "oversold"], "range": ["#e77b7b", "#5d9c84"]}, "legend": null}
          }
        },
        {
          "data": {"name": "rsi"},
          "mark": {"type": "line", "color": "#1a1a1a", "strokeWidth": 1},
          "encoding": {}
        },
        {
          "data": {"name": "rsiTrend"},
          "mark": {"type": "rule", "strokeWidth": 2.2},
          "encoding": {
            "x2": {"field": "k2"},
            "y2": {"field": "v2"},
            "color": {"field": "kind", "type": "nominal", "scale": {"domain": ["bearish divergence", "bullish divergence"], "range": ["#e3262a", "#1f8a25"]}, "legend": null}
          }
        }
      ],
      "resolve": {"scale": {"color": "independent"}}
    },
    {
      "width": 1149,
      "height": 85,
      "title": {"text": ["", "Moving Average Convergence Divergence (MACD) (9, 12 , 26)"], "lineHeight": 8, "anchor": "start", "font": "Roboto", "fontSize": 10.6, "fontWeight": "normal", "color": "#444", "offset": 10, "dx": 2},
      "encoding": {
        "x": {"field": "k", "type": "quantitative", "scale": {"domain": [-1.3, 169.5], "nice": false, "zero": false}, "axis": null},
        "y": {"field": "v", "type": "quantitative", "title": null, "scale": {"domain": [-2, 4], "nice": false, "zero": false},
          "axis": {"orient": "right", "title": null, "grid": true, "gridColor": "#ececec", "values": [-2, 0, 2, 4], "labelFontSize": 11, "labelColor": "#777", "labelPadding": 8, "tickSize": 0, "labelOverlap": false}}
      },
      "layer": [
        {
          "data": {"name": "hist"},
          "mark": {"type": "area", "color": "#c6c6f3", "opacity": 0.9},
          "encoding": {"y2": {"datum": 0}}
        },
        {
          "data": {"name": "macd"},
          "mark": {"type": "line", "strokeWidth": 1.3},
          "encoding": {
            "color": {"field": "s", "type": "nominal", "scale": {"domain": ["MACD", "Signal"], "range": ["#3535b5", "#e5403a"]}, "legend": null}
          }
        },
        {
          "data": {"name": "macdTrend"},
          "mark": {"type": "rule", "strokeWidth": 2.2},
          "encoding": {
            "x2": {"field": "k2"},
            "y2": {"field": "v2"},
            "color": {"field": "kind", "type": "nominal", "scale": {"domain": ["bearish divergence", "bullish divergence"], "range": ["#e3262a", "#1f8a25"]}, "legend": null}
          }
        }
      ],
      "resolve": {"scale": {"color": "independent"}}
    }
  ]
}
